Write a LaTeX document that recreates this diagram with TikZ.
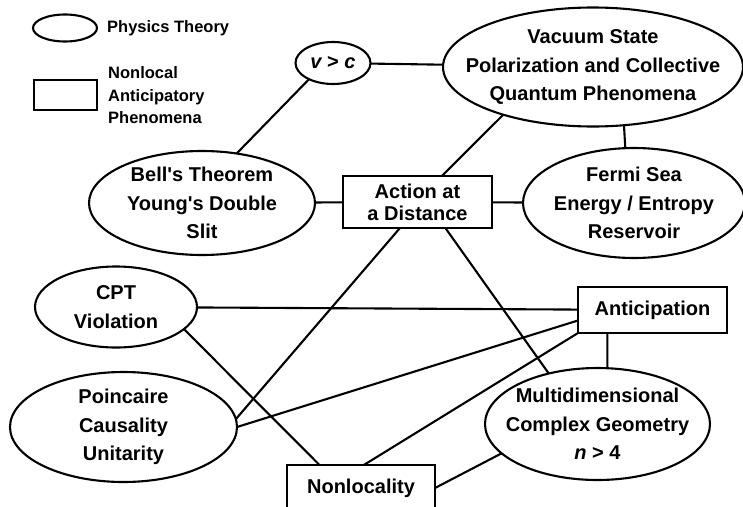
\documentclass[tikz,border=0pt]{standalone}
\usepackage{fontspec}
\setmainfont{Liberation Sans}
\usetikzlibrary{shapes.geometric}
\begin{document}
\begin{tikzpicture}[x=1pt,y=-1pt,
	theory/.style={ellipse,draw,line width=2.1pt,inner sep=0pt,outer sep=0pt},
	phen/.style={rectangle,draw,line width=2.1pt,inner sep=0pt,outer sep=0pt,align=center,font=\bfseries\fontsize{20}{22}\selectfont},
	lbl/.style={inner sep=0pt,align=center,font=\bfseries\fontsize{20}{28.5}\selectfont},
	keytxt/.style={inner sep=0pt,anchor=west,align=left,font=\bfseries\fontsize{16.5}{22.5}\selectfont}]
	\useasboundingbox (0,0) rectangle (743,506);
	% key
	\node[theory,minimum width=64,minimum height=27] (keyth) at (65,28) {};
	\node[keytxt] (keythtxt) at (107,28) {Physics Theory};
	\node[phen,minimum width=63,minimum height=30] (keyph) at (65.5,95) {};
	\node[keytxt] (keyphtxt) at (108,95.5) {Nonlocal\\Anticipatory\\Phenomena};
	% theories
	\node[theory,minimum width=75,minimum height=42,label={[lbl]center:{\itshape v\upshape{} > \itshape c}}] (vc) at (333,63) {};
	\node[theory,minimum width=300,minimum height=119,label={[lbl]center:{Vacuum State\\Polarization and Collective\\Quantum Phenomena}}] (vac) at (593,67) {};
	\node[theory,minimum width=226,minimum height=104,label={[lbl]center:{Bell\textquotesingle s Theorem\\Young\textquotesingle s Double\\Slit}}] (bell) at (202,203) {};
	\node[theory,minimum width=222,minimum height=110,label={[lbl]center:{Fermi Sea\\Energy / Entropy\\Reservoir}}] (fermi) at (634,203) {};
	\node[theory,minimum width=162,minimum height=81,label={[lbl]center:{CPT\\Violation}}] (cpt) at (116,307) {};
	\node[theory,minimum width=227,minimum height=110,label={[lbl]center:{Poincaire\\Causality\\Unitarity}}] (poin) at (123.5,427) {};
	\node[theory,minimum width=225,minimum height=112,label={[lbl]center:{Multidimensional\\Complex Geometry\\\itshape n\upshape{} > 4}}] (multi) at (597.5,424) {};
	% phenomena
	\node[phen,minimum width=149,minimum height=52] (act) at (417.5,202) {Action at\\a Distance};
	\node[phen,minimum width=149,minimum height=46] (ant) at (652.5,310) {Anticipation};
	\node[phen,minimum width=148,minimum height=46] (nonloc) at (361,488) {Nonlocality};
	% links
	\foreach \p/\q in {vc/vac, bell.55/vc.214, vac.208/act.47, vac.-62/fermi.99,
		bell/act, act/fermi, act.236/poin.4, act.-43/multi.134, cpt/ant,
		cpt.-18/nonloc.151, poin.0/ant.188, nonloc.83/ant.south west,
		ant.207/multi.80, multi.197/nonloc.east}
		\draw[line width=2.1pt] (\p) -- (\q);
\end{tikzpicture}
\end{document}
